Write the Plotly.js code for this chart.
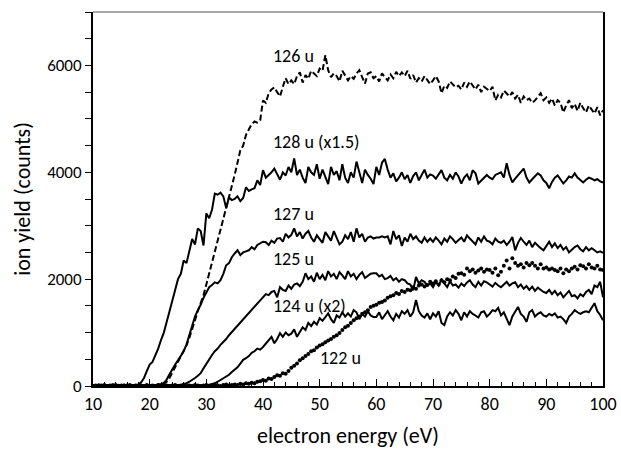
<!DOCTYPE html>
<html>
<head>
<meta charset="utf-8">
<script src="https://cdn.plot.ly/plotly-3.0.1.min.js"></script>
<style>html,body{margin:0;padding:0;background:#fff;}#chart{width:621px;height:449px;}</style>
</head>
<body>
<div id="chart"></div>
<script>
// electron energy grid (eV), 0.5 eV steps
const energy = [
10,10.5,11,11.5,12,12.5,13,13.5,14,14.5,15,15.5,16,16.5,17,17.5,18,18.5,19,19.5,
20,20.5,21,21.5,22,22.5,23,23.5,24,24.5,25,25.5,26,26.5,27,27.5,28,28.5,29,29.5,
30,30.5,31,31.5,32,32.5,33,33.5,34,34.5,35,35.5,36,36.5,37,37.5,38,38.5,39,39.5,
40,40.5,41,41.5,42,42.5,43,43.5,44,44.5,45,45.5,46,46.5,47,47.5,48,48.5,49,49.5,
50,50.5,51,51.5,52,52.5,53,53.5,54,54.5,55,55.5,56,56.5,57,57.5,58,58.5,59,59.5,
60,60.5,61,61.5,62,62.5,63,63.5,64,64.5,65,65.5,66,66.5,67,67.5,68,68.5,69,69.5,
70,70.5,71,71.5,72,72.5,73,73.5,74,74.5,75,75.5,76,76.5,77,77.5,78,78.5,79,79.5,
80,80.5,81,81.5,82,82.5,83,83.5,84,84.5,85,85.5,86,86.5,87,87.5,88,88.5,89,89.5,
90,90.5,91,91.5,92,92.5,93,93.5,94,94.5,95,95.5,96,96.5,97,97.5,98,98.5,99,99.5,100];

const y126 = [
0,10,0,20,0,10,0,10,20,0, 10,0,20,0,10,0,20,10,0,10,
0,20,10,30,20,40,80,150,250,350, 450,550,650,760,900,1080,1250,1400,1550,1700,
1900,2100,2300,2500,2700,2900,3100,3300,3500,3720, 3950,4180,4410,4500,4700,4800,4900,4950,4930,4970,
5345,5300,5480,5550,5590,5500,5420,5600,5760,5650, 5720,5650,5800,5870,5680,5820,5750,5900,5850,5800,
5940,5900,6190,5910,5780,5850,5800,5700,5900,5820, 5720,5800,5750,5850,5910,5780,5660,5850,5870,5760,
5800,5700,5850,5780,5720,5830,5760,5880,5800,5870, 5800,5900,5750,5820,5680,5760,5700,5800,5720,5650,
5720,5800,5700,5480,5620,5580,5700,5650,5590,5620, 5550,5680,5600,5700,5620,5550,5640,5500,5600,5560,
5520,5600,5345,5450,5400,5530,5480,5420,5500,5380, 5450,5300,5420,5350,5380,5300,5345,5420,5480,5350,
5400,5300,5380,5250,5350,5300,5120,5250,5350,5200, 5280,5150,5300,5200,5120,5250,5180,5100,5220,5065, 5160];

const y128 = [
20,0,30,10,0,20,10,30,0,20, 10,30,0,20,10,20,30,70,150,280,
400,450,560,700,860,1000,1200,1400,1550,1800, 2000,2100,2350,2300,2550,2750,2650,2950,2900,2630,
3230,3140,3300,3600,3580,3620,3550,3330,3530,3480, 3500,3550,3460,3520,3720,3650,3680,3700,3850,3760,
4040,3900,3950,4000,4070,3950,3860,4000,3940,4100, 4000,4260,3950,4050,3900,3800,4100,4000,3950,4150,
3880,4050,3900,3780,4100,3950,4020,3850,4150,3900, 3800,4000,3900,4200,4000,3800,4050,3950,3880,3780,
4100,3950,4180,4250,4050,3900,3980,3830,3900,4000, 3870,3950,3800,3930,4000,3850,3950,4050,3900,3960,
3940,3880,3960,4040,3900,3850,3950,3880,4000,3920, 3790,3900,3960,3850,4040,3980,3790,3850,3900,3950,
3900,3870,3950,3980,4000,3900,4170,3950,3810,3880, 3950,4000,4070,3900,3810,3870,3920,3980,3940,3850,
3800,3700,3820,3900,3940,3860,3790,3850,3920,3900, 3980,3900,3850,3810,3860,3900,3880,3850,3870,3830, 3810];

const y127 = [
10,0,20,0,10,20,0,10,0,20, 0,10,20,0,10,0,20,10,0,10,
20,0,10,20,30,60,120,220,320,400, 480,560,650,780,950,1150,1300,1420,1520,1650,
1760,1850,1890,1940,1920,1980,2100,2260,2300,2410, 2480,2540,2450,2500,2520,2540,2600,2560,2640,2670,
2700,2690,2640,2720,2680,2760,2770,2700,2850,2780, 2830,2950,2800,2880,2760,2850,2900,2780,2700,2820,
2750,2680,2880,2800,2720,2900,2780,2650,2700,2820, 2750,2880,2700,2950,2780,2850,2700,2780,2800,2760,
2780,2780,2800,2780,2800,2650,2900,2750,2820,2620, 2780,2700,2850,2750,2800,2720,2680,2780,2700,2760,
2700,2780,2720,2650,2760,2700,2800,2750,2680,2740, 2780,2700,2820,2760,2700,2650,2780,2700,2800,2720,
2700,2650,2760,2700,2680,2720,2640,2700,2790,2540, 2680,2770,2700,2640,2720,2600,2680,2620,2580,2540,
2620,2700,2600,2670,2580,2640,2550,2600,2500,2560, 2600,2630,2560,2520,2600,2540,2580,2540,2500,2520, 2490];

const y125 = [
0,20,10,0,20,0,10,30,0,10, 20,0,10,0,20,10,0,20,10,0,
10,20,0,10,30,0,20,10,0,20, 10,20,30,50,80,110,150,190,240,330,
420,500,580,650,700,770,820,880,950,1010, 1060,1120,1180,1250,1300,1350,1420,1480,1550,1610,
1650,1720,1700,1760,1780,1660,1850,1800,1780,1880, 1820,1900,1920,1870,1950,2110,2000,2050,1950,2120,
2000,2080,1980,2150,2050,2100,2000,2130,2070,2000, 2150,2050,2100,2000,2080,2130,2020,2060,2100,2110,
2110,2050,2080,2000,2020,2060,1980,2020,1950,2000, 1980,1920,1900,1790,2040,1920,1980,1950,1880,1920,
1850,1950,1880,1990,1920,1850,1960,1880,1900,1840, 1920,1870,1940,1980,1900,1850,1950,1880,1960,1940,
1900,1860,1930,1880,1850,1900,1950,1880,1920,1940, 1850,1900,1820,1870,1800,1860,1780,1840,1800,1760,
1740,1800,1720,1780,1700,1750,1660,1720,1780,1680, 1700,1640,1720,1680,1760,1800,1720,1880,1850,1950, 1660];

const y124 = [
10,0,20,0,10,0,20,10,0,10, 0,20,10,0,10,20,0,10,0,20,
0,10,20,0,10,0,20,10,0,10, 20,0,10,0,20,10,0,20,10,0,
10,20,30,50,80,110,140,170,210,260, 310,350,420,490,520,560,620,650,700,680,
730,800,860,920,800,880,990,920,1000,950, 980,1060,920,1010,1100,1050,1180,1120,1200,1150,
1270,1220,1300,1360,1250,1180,1320,1280,1380,1300, 1360,1300,1420,1380,1250,1350,1300,1400,1320,1290,
1290,1380,1250,1330,1400,1300,1230,1350,1280,1400, 1350,1420,1300,1380,1610,1400,1320,1280,1360,1250,
1360,1300,1400,1180,1140,1300,1380,1320,1420,1350, 1230,1380,1300,1400,1350,1320,1280,1380,1400,1300,
1350,1420,1400,1460,1320,1380,1250,1140,1300,1400, 1480,1350,1300,1200,1380,1420,1300,1350,1380,1320,
1300,1350,1320,1360,1280,1300,1250,1180,1300,1350, 1420,1380,1350,1380,1400,1380,1480,1550,1400,1330, 1230];

const y122 = [
0,10,0,10,20,0,10,0,20,0, 10,0,10,20,0,10,0,10,0,20,
0,10,0,20,10,0,10,0,10,20, 0,10,20,0,10,0,20,10,0,10,
20,0,10,30,10,0,20,30,10,20, 30,20,40,30,50,40,60,50,80,90,
110,100,140,130,170,200,190,240,230,280, 340,380,420,480,520,560,600,650,670,720,
760,780,820,850,880,920,950,990,1050,1100, 1130,1180,1230,1270,1300,1350,1380,1420,1480,1500,
1520,1560,1570,1600,1650,1680,1700,1740,1720,1780, 1760,1800,1790,1850,1820,1880,1900,1860,1890,1950,
1920,1960,1900,1980,1940,2000,1980,2050,2020,2100, 2110,2080,2200,2150,2180,2120,2160,2200,2140,2180,
2170,2120,2200,2075,2140,2250,2350,2200,2390,2300, 2250,2280,2220,2300,2260,2300,2250,2200,2280,2200,
2220,2180,2200,2170,2150,2200,2110,2180,2150,2200, 2230,2180,2260,2240,2200,2280,2220,2200,2250,2180, 2170];

const labels = ["126 u", "128 u (x1.5)", "127 u", "125 u", "124 u (x2)", "122 u"];
const labelX = [41.4, 41.4, 41.4, 41.4, 41.4, 49.7];
const labelY = [6170, 4560, 3215, 2375, 1495, 520];

const FONT = "Carlito, Lato, 'Liberation Sans', sans-serif";

const solid = {color: "#000", width: 2};
const traces = [
  {x: energy, y: y128, mode: "lines", line: solid},
  {x: energy, y: y127, mode: "lines", line: solid},
  {x: energy, y: y125, mode: "lines", line: solid},
  {x: energy, y: y124, mode: "lines", line: solid},
  {x: energy, y: y126, mode: "lines", line: {color: "#000", width: 2, dash: "6px,3px"}},
  {x: energy, y: y122, mode: "markers", marker: {color: "#000", size: 4}}
];

const annotations = labels.map((t, i) => ({
  x: labelX[i], y: labelY[i], xref: "x", yref: "y", text: t,
  showarrow: false, xanchor: "left", yanchor: "middle",
  font: {family: FONT, size: 18, color: "#000"}
}));

const layout = {
  width: 621, height: 449,
  margin: {l: 93, r: 18, t: 12, b: 63},
  paper_bgcolor: "#fff", plot_bgcolor: "#fff",
  showlegend: false,
  font: {family: FONT, size: 17, color: "#000"},
  xaxis: {
    range: [10, 100], tick0: 10, dtick: 10,
    ticks: "inside", ticklen: 7, tickwidth: 1, tickcolor: "#000",
    minor: {dtick: 2, ticks: "inside", ticklen: 4, tickwidth: 1, tickcolor: "#000", showgrid: false},
    showline: true, linecolor: "#000", linewidth: 2,
    showgrid: false, zeroline: false,
    tickfont: {family: FONT, size: 18, color: "#000"},
    title: {text: "electron energy (eV)", font: {family: FONT, size: 22, color: "#000"}, standoff: 18}
  },
  yaxis: {
    range: [0, 7000], tickvals: [0, 2000, 4000, 6000],
    ticks: "outside", ticklen: 6, tickwidth: 1, tickcolor: "#000",
    minor: {dtick: 500, ticks: "outside", ticklen: 6, tickwidth: 1, tickcolor: "#000", showgrid: false},
    showline: true, mirror: true, linecolor: "#000", linewidth: 2,
    showgrid: false, zeroline: false,
    tickfont: {family: FONT, size: 17, color: "#000"},
    title: {text: "ion yield (counts)", font: {family: FONT, size: 22, color: "#000"}, standoff: 10}
  },
  shapes: [{type: "line", xref: "paper", yref: "paper", x0: 0, x1: 1, y0: 1, y1: 1,
            line: {color: "#888", width: 1.5}}],
  annotations: annotations
};

Plotly.newPlot("chart", traces, layout, {displayModeBar: false, staticPlot: true});
</script>
</body>
</html>
